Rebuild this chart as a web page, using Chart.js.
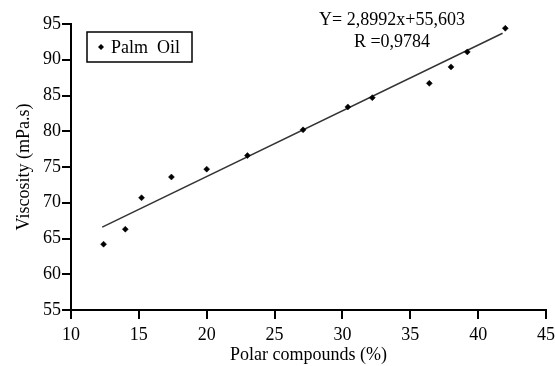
<!DOCTYPE html>
<html>
<head>
<meta charset="utf-8">
<script src="https://cdn.jsdelivr.net/npm/chart.js@4/dist/chart.umd.min.js"></script>
<style>
html,body{margin:0;padding:0;background:#fff;}
#wrap{width:555px;height:366px;position:relative;}
</style>
</head>
<body>
<div id="wrap"><canvas id="c" width="555" height="366"></canvas></div>
<script>
// Data
const seriesName = "Palm  Oil";
const xValues = [12.4, 14.0, 15.2, 17.4, 20.0, 23.0, 27.1, 30.4, 32.2, 36.4, 38.0, 39.2, 42.0];
const yValues = [64.2, 66.3, 70.7, 73.6, 74.7, 76.6, 80.2, 83.4, 84.7, 86.7, 89.0, 91.1, 94.4];
const trendX = [12.3, 41.8];
const trendY = [66.6, 93.7];
const xTicks = [10, 15, 20, 25, 30, 35, 40, 45];
const yTicks = [55, 60, 65, 70, 75, 80, 85, 90, 95];
const equationLines = ["Y= 2,8992x+55,603", "R =0,9784"];
const xTitle = "Polar compounds (%)";
const yTitle = "Viscosity (mPa.s)";

const FONT = "'Liberation Serif', 'Times New Roman', serif";

const scatterData = xValues.map((x, i) => ({x: x, y: yValues[i]}));
const trendData = trendX.map((x, i) => ({x: x, y: trendY[i]}));

const overlay = {
  id: 'overlay',
  afterDraw(chart) {
    const ctx = chart.ctx;
    const a = chart.chartArea;
    ctx.save();
    // legend box
    const bx = a.left + 16, by = a.top + 8, bw = 105, bh = 30;
    ctx.strokeStyle = '#000';
    ctx.lineWidth = 1.5;
    ctx.strokeRect(bx, by, bw, bh);
    // marker
    const mx = bx + 14, my = by + bh / 2;
    ctx.fillStyle = '#000';
    ctx.beginPath();
    ctx.moveTo(mx, my - 3); ctx.lineTo(mx + 3, my); ctx.lineTo(mx, my + 3); ctx.lineTo(mx - 3, my); ctx.closePath();
    ctx.fill();
    ctx.font = "18px " + FONT;
    ctx.textBaseline = 'middle';
    ctx.textAlign = 'left';
    ctx.fillText(seriesName, bx + 24, my + 1);
    // equation
    ctx.textAlign = 'center';
    ctx.font = "18px " + FONT;
    const ex = 392;
    ctx.fillText(equationLines[0], ex, a.top - 4);
    ctx.fillText(equationLines[1], ex, a.top + 18);
    ctx.restore();
  }
};

new Chart(document.getElementById('c'), {
  type: 'scatter',
  data: {
    datasets: [
      {
        label: seriesName,
        data: scatterData,
        pointStyle: 'rectRot',
        pointRadius: 3,
        backgroundColor: '#000',
        borderColor: '#000',
        borderWidth: 0.5,
        showLine: false
      },
      {
        label: 'trend',
        data: trendData,
        showLine: true,
        pointRadius: 0,
        borderColor: '#333',
        borderWidth: 1.5,
        fill: false
      }
    ]
  },
  options: {
    responsive: false,
    animation: false,
    events: [],
    layout: {padding: {top: 24, right: 0, left: 0, bottom: 0}},
    plugins: {legend: {display: false}, tooltip: {enabled: false}},
    scales: {
      x: {
        type: 'linear',
        min: 10, max: 45,
        afterBuildTicks(s) { s.ticks = xTicks.map(v => ({value: v})); },
        afterFit(s) { s.height = 56; s.paddingRight = 9; s.paddingLeft = 0; },
        border: {color: '#000', width: 2},
        grid: {drawOnChartArea: false, drawTicks: true, tickLength: 9, color: '#000', lineWidth: 2},
        ticks: {color: '#000', font: {family: FONT, size: 18}, padding: 5, maxRotation: 0},
        title: {display: true, text: xTitle, color: '#000', font: {family: FONT, size: 18}, padding: {top: 0, bottom: 0}}
      },
      y: {
        type: 'linear',
        min: 55, max: 95,
        afterBuildTicks(s) { s.ticks = yTicks.map(v => ({value: v})); },
        afterFit(s) { s.width = 71; },
        border: {color: '#000', width: 2},
        grid: {drawOnChartArea: false, drawTicks: true, tickLength: 9, color: '#000', lineWidth: 2},
        ticks: {color: '#000', font: {family: FONT, size: 18}, padding: 1},
        title: {display: true, text: yTitle, color: '#000', font: {family: FONT, size: 18}, padding: {top: 13, bottom: 0}}
      }
    }
  },
  plugins: [overlay]
});
</script>
</body>
</html>
